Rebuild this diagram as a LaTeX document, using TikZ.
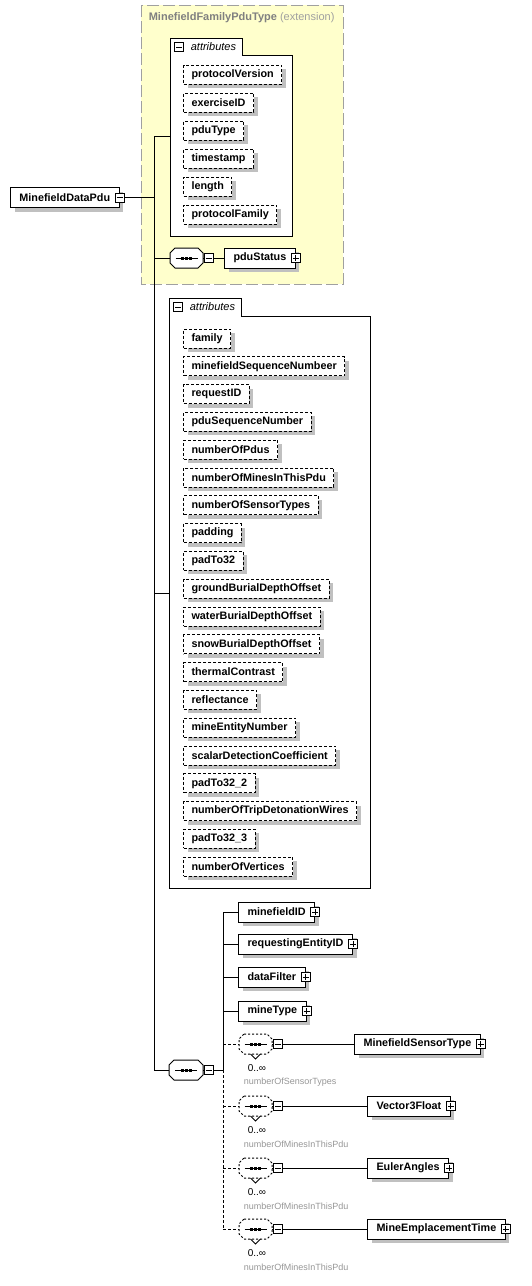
\documentclass[tikz,border=0pt]{standalone}
\usepackage{fontspec}
\setmainfont{Liberation Sans}
\usetikzlibrary{positioning,shadows}

\definecolor{basefill}{RGB}{255,255,204}
\definecolor{baseframe}{RGB}{160,160,160}
\definecolor{basetext}{RGB}{128,128,128}
\definecolor{shadegray}{RGB}{192,192,192}
\definecolor{notegray}{RGB}{150,150,150}

\newcommand{\elemfont}{\fontsize{10.8}{12}\selectfont\bfseries}

% octagon of a sequence compositor, drawn round a named node
\newcommand{\octpath}[1]{([xshift=5pt]#1.north west) -- ([xshift=-5pt]#1.north east) -- ([yshift=-5pt]#1.north east) -- ([yshift=5pt]#1.south east) -- ([xshift=-5pt]#1.south east) -- ([xshift=5pt]#1.south west) -- ([yshift=5pt]#1.south west) -- ([yshift=-5pt]#1.north west) -- cycle}
\newcommand{\seqframe}[2]{%
  \fill[shadegray, xshift=4pt, yshift=-4pt] \octpath{#1};
  \draw[fill=white, #2] \octpath{#1};
  \draw ([xshift=-11pt]#1.center) -- ([xshift=11pt]#1.center);
  \fill ([xshift=-5.5pt,yshift=-1.5pt]#1.center) rectangle ++(3pt,3pt);
  \fill ([xshift=-1.5pt,yshift=-1.5pt]#1.center) rectangle ++(3pt,3pt);
  \fill ([xshift=2.5pt,yshift=-1.5pt]#1.center) rectangle ++(3pt,3pt);
}

\tikzset{
  boxshadow/.style={drop shadow={shadow xshift=4pt, shadow yshift=-4pt, fill=shadegray, opacity=1}},
  element/.style={draw, fill=white, anchor=west, minimum height=20pt, inner xsep=9pt, inner ysep=0pt, font=\elemfont, boxshadow},
  attribute/.style={element, minimum height=19pt, inner xsep=8pt, dash pattern=on 3pt off 2pt},
  toggle/.style={draw, fill=white, minimum size=9pt, inner sep=0pt, line width=0.8pt},
  collapse/.style={toggle, path picture={
      \draw ([xshift=-3pt]path picture bounding box.center) -- ([xshift=3pt]path picture bounding box.center);}},
  expand/.style={toggle, path picture={
      \draw ([xshift=-3pt]path picture bounding box.center) -- ([xshift=3pt]path picture bounding box.center);
      \draw ([yshift=-3pt]path picture bounding box.center) -- ([yshift=3pt]path picture bounding box.center);}},
  sequence/.style={anchor=west, minimum width=33pt, minimum height=20pt, inner sep=0pt, outer sep=0pt},
  optlink/.style={dash pattern=on 3pt off 2pt},
  card/.style={anchor=west, font=\fontsize{10}{11}\selectfont},
  note/.style={anchor=west, text=notegray, font=\fontsize{9}{10}\selectfont},
  tabtitle/.style={anchor=west, font=\fontsize{11}{12}\selectfont\itshape},
}

\begin{document}
\begin{tikzpicture}[x=1pt, y=-1pt, line width=1pt]
\useasboundingbox (0,0) rectangle (531,1286);

% extension base type
\draw[baseframe, fill=basefill, dash pattern=on 12pt off 4pt] (141,5) rectangle (343,284);
\node[anchor=west, text=basetext, font=\fontsize{11}{12}\selectfont] (baseType) at (145,18) {\textbf{MinefieldFamilyPduType} \textcolor{baseframe}{(extension)}};

% root element
\node[element] (root) at (10,197.5) {MinefieldDataPdu};
\node[collapse] (rootT) at (root.east) {};

% spine
\coordinate (spineTop) at (154,136);
\coordinate (rootJ) at (154,197.5);
\coordinate (seqBaseJ) at (154,258);
\coordinate (attrBJ) at (154,593);
\coordinate (spineBot) at (154,1070);
\draw (spineTop) -- (spineBot);
\draw (rootT) -- (rootJ);

% inherited attributes
\draw[fill=white] (170,236) -- (170,38) -- (242,38) -- (242,55) -- (292,55) -- (292,236) -- cycle;
\coordinate (attrA) at (170,136);
\node[collapse] (attrAT) at (179,47) {};
\node[tabtitle] (attrAName) at (187,47) {attributes};
\node[attribute] (protocolVersion) at (183,74.5) {protocolVersion};
\node[attribute, below=8pt of protocolVersion.south west, anchor=north west] (exerciseID) {exerciseID};
\node[attribute, below=8pt of exerciseID.south west, anchor=north west] (pduType) {pduType};
\node[attribute, below=8pt of pduType.south west, anchor=north west] (timestamp) {timestamp};
\node[attribute, below=8pt of timestamp.south west, anchor=north west] (length) {length};
\node[attribute, below=8pt of length.south west, anchor=north west] (protocolFamily) {protocolFamily};
\draw (spineTop) -- (attrA);

% inherited sequence
\node[sequence] (seqBase) at (170,258) {};
\seqframe{seqBase}{solid}
\node[collapse] (seqBaseT) at (208.5,258) {};
\node[element] (pduStatus) at (224,258) {pduStatus};
\node[expand] (pduStatusT) at (pduStatus.east) {};
\draw (seqBaseJ) -- (seqBase);
\draw (seqBase) -- (seqBaseT) -- (pduStatus);

% own attributes
\draw[fill=white] (169,888) -- (169,298) -- (241,298) -- (241,316) -- (370,316) -- (370,888) -- cycle;
\coordinate (attrB) at (169,593);
\node[collapse] (attrBT) at (178,307) {};
\node[tabtitle] (attrBName) at (186,307) {attributes};
\node[attribute] (family) at (183,338.5) {family};
\node[attribute, below=7.8pt of family.south west, anchor=north west] (minefieldSequenceNumbeer) {minefieldSequenceNumbeer};
\node[attribute, below=7.8pt of minefieldSequenceNumbeer.south west, anchor=north west] (requestID) {requestID};
\node[attribute, below=7.8pt of requestID.south west, anchor=north west] (pduSequenceNumber) {pduSequenceNumber};
\node[attribute, below=7.8pt of pduSequenceNumber.south west, anchor=north west] (numberOfPdus) {numberOfPdus};
\node[attribute, below=7.8pt of numberOfPdus.south west, anchor=north west] (numberOfMinesInThisPdu) {numberOfMinesInThisPdu};
\node[attribute, below=7.8pt of numberOfMinesInThisPdu.south west, anchor=north west] (numberOfSensorTypes) {numberOfSensorTypes};
\node[attribute, below=7.8pt of numberOfSensorTypes.south west, anchor=north west] (padding) {padding};
\node[attribute, below=7.8pt of padding.south west, anchor=north west] (padToA) {padTo32};
\node[attribute, below=7.8pt of padToA.south west, anchor=north west] (groundBurialDepthOffset) {groundBurialDepthOffset};
\node[attribute, below=7.8pt of groundBurialDepthOffset.south west, anchor=north west] (waterBurialDepthOffset) {waterBurialDepthOffset};
\node[attribute, below=7.8pt of waterBurialDepthOffset.south west, anchor=north west] (snowBurialDepthOffset) {snowBurialDepthOffset};
\node[attribute, below=7.8pt of snowBurialDepthOffset.south west, anchor=north west] (thermalContrast) {thermalContrast};
\node[attribute, below=7.8pt of thermalContrast.south west, anchor=north west] (reflectance) {reflectance};
\node[attribute, below=7.8pt of reflectance.south west, anchor=north west] (mineEntityNumber) {mineEntityNumber};
\node[attribute, below=7.8pt of mineEntityNumber.south west, anchor=north west] (scalarDetectionCoefficient) {scalarDetectionCoefficient};
\node[attribute, below=7.8pt of scalarDetectionCoefficient.south west, anchor=north west] (padToB) {padTo32\_2};
\node[attribute, below=7.8pt of padToB.south west, anchor=north west] (numberOfTripDetonationWires) {numberOfTripDetonationWires};
\node[attribute, below=7.8pt of numberOfTripDetonationWires.south west, anchor=north west] (padToC) {padTo32\_3};
\node[attribute, below=7.8pt of padToC.south west, anchor=north west] (numberOfVertices) {numberOfVertices};
\draw (attrBJ) -- (attrB);

% own sequence
\node[sequence, minimum width=34pt] (seqOwn) at (169,1070) {};
\seqframe{seqOwn}{solid}
\node[collapse] (seqOwnT) at (208.5,1070) {};
\draw (spineBot) -- (seqOwn);
\coordinate (grpTop) at (223,912);
\coordinate (grpMid) at (223,1070);
\coordinate (grpBot) at (223,1229);
\draw (seqOwn) -- (seqOwnT) -- (grpMid);
\draw (grpTop) -- (grpMid);
\draw[optlink] (grpMid) -- (grpBot);

\node[element] (minefieldID) at (238,912) {minefieldID};
\node[expand] (minefieldIDT) at (minefieldID.east) {};
\node[element, below=11pt of minefieldID.south west, anchor=north west] (requestingEntityID) {requestingEntityID};
\node[expand] (requestingEntityIDT) at (requestingEntityID.east) {};
\node[element, below=12pt of requestingEntityID.south west, anchor=north west] (dataFilter) {dataFilter};
\node[expand] (dataFilterT) at (dataFilter.east) {};
\node[element, below=13pt of dataFilter.south west, anchor=north west] (mineType) {mineType};
\node[expand] (mineTypeT) at (mineType.east) {};
\draw (grpTop) -- (minefieldID);
\draw (requestingEntityID -| grpTop) -- (requestingEntityID);
\draw (dataFilter -| grpTop) -- (dataFilter);
\draw (mineType -| grpTop) -- (mineType);

% repeated groups
\node[sequence] (optSensor) at (239,1044) {};
\node[collapse] (optSensorT) at (278,1044) {};
\node[element] (MinefieldSensorType) at (354,1044) {MinefieldSensorType};
\node[expand] (MinefieldSensorTypeT) at (MinefieldSensorType.east) {};
\node[card] (optSensorN) at (244,1068) {0..∞};
\node[note] (optSensorL) at (240,1082) {numberOfSensorTypes};

\node[sequence] (optVector) at (239,1106) {};
\node[collapse] (optVectorT) at (278,1106) {};
\node[element] (Vector3Float) at (367,1106) {Vector3Float};
\node[expand] (Vector3FloatT) at (Vector3Float.east) {};
\node[card] (optVectorN) at (244,1130) {0..∞};
\node[note] (optVectorL) at (240,1144) {numberOfMinesInThisPdu};

\node[sequence] (optEuler) at (239,1168) {};
\node[collapse] (optEulerT) at (278,1168) {};
\node[element] (EulerAngles) at (367,1168) {EulerAngles};
\node[expand] (EulerAnglesT) at (EulerAngles.east) {};
\node[card] (optEulerN) at (244,1192) {0..∞};
\node[note] (optEulerL) at (240,1206) {numberOfMinesInThisPdu};

\node[sequence] (optTime) at (239,1229) {};
\node[collapse] (optTimeT) at (278,1229) {};
\node[element] (MineEmplacementTime) at (367,1229) {MineEmplacementTime};
\node[expand] (MineEmplacementTimeT) at (MineEmplacementTime.east) {};
\node[card] (optTimeN) at (244,1253) {0..∞};
\node[note] (optTimeL) at (240,1267) {numberOfMinesInThisPdu};

\foreach \g/\t in {optSensor/MinefieldSensorType, optVector/Vector3Float, optEuler/EulerAngles, optTime/MineEmplacementTime} {
  \seqframe{\g}{dash pattern=on 2pt off 2pt}
  \draw[line width=0.8pt] ([xshift=-5pt]\g.south) -- ([yshift=-5pt]\g.south) -- ([xshift=5pt]\g.south);
  \draw[optlink] (\g -| grpTop) -- (\g);
  \draw (\g) -- (\g T) -- (\t);
}
\end{tikzpicture}
\end{document}
